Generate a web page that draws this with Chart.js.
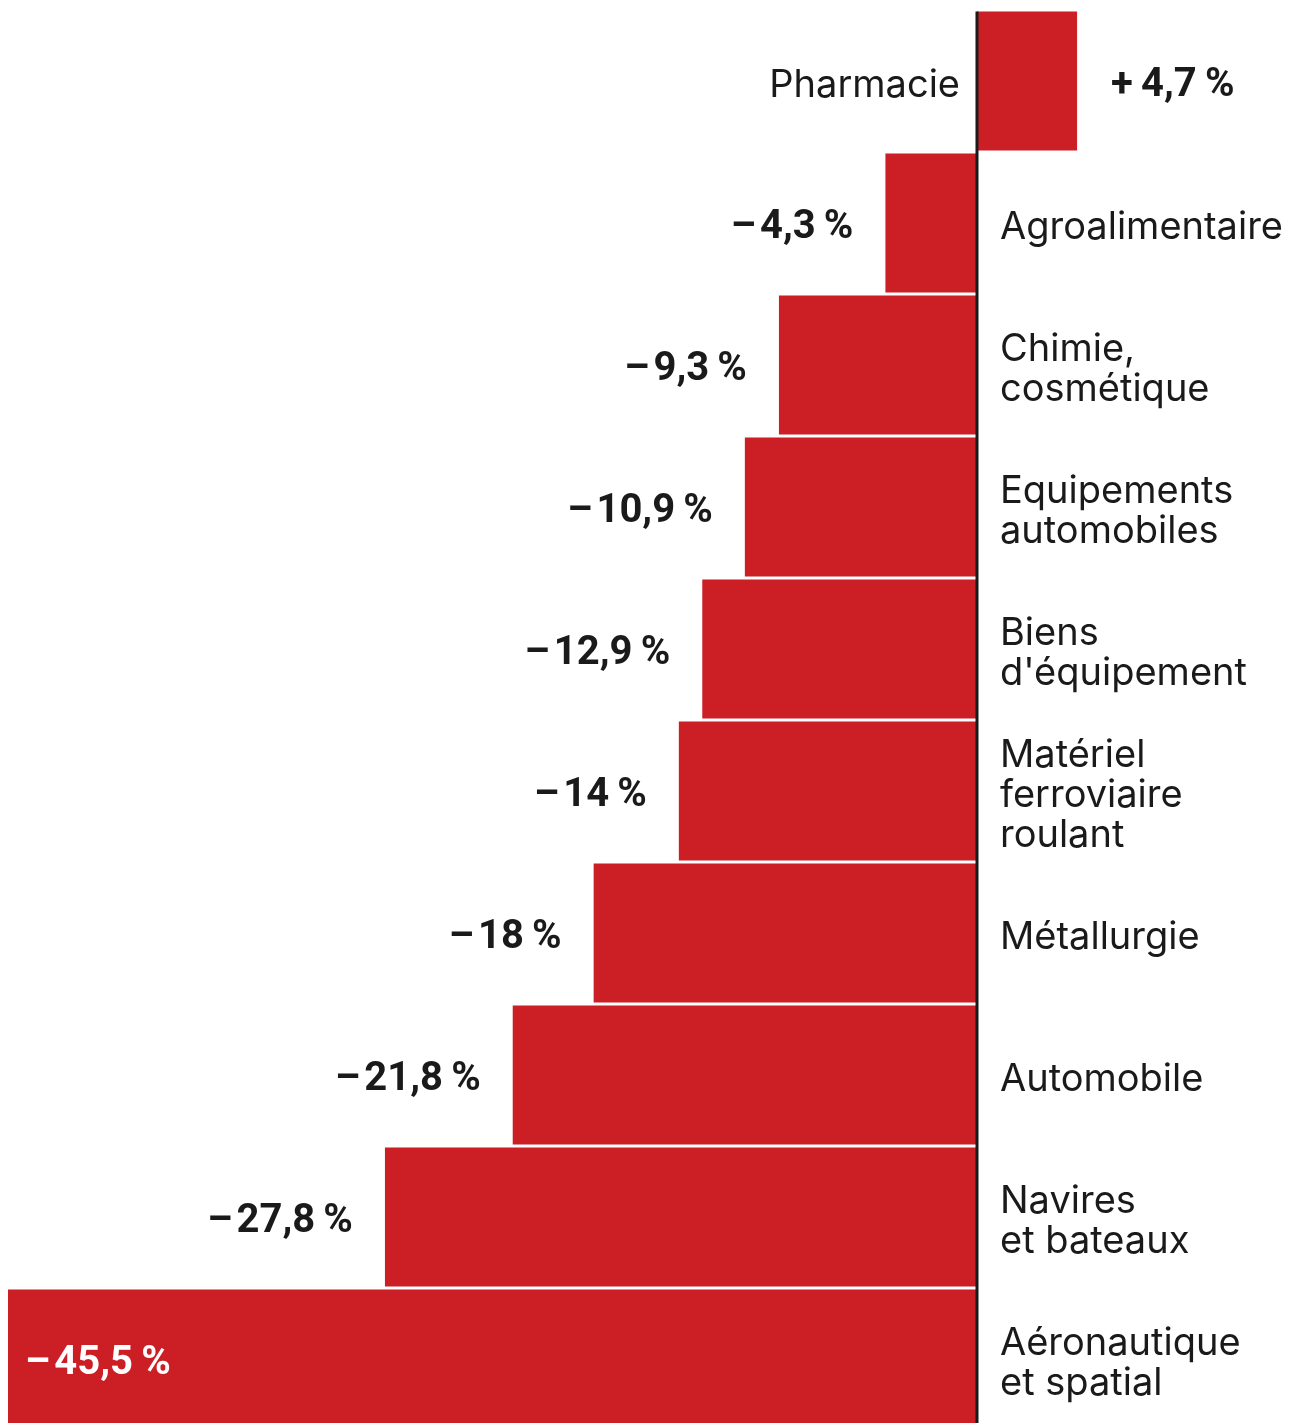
<!DOCTYPE html>
<html lang="fr">
<head>
<meta charset="utf-8">
<script src="https://cdn.jsdelivr.net/npm/chart.js@4"></script>
<style>
  html, body { margin: 0; padding: 0; background: #fff; overflow: hidden; }
  #graphique { display: block; }
</style>
</head>
<body>
<canvas id="graphique" width="1299" height="1430"></canvas>
<script>
// secteurs (une ligne par élément de tableau)
const secteurs = [
    ['Pharmacie'],
    ['Agroalimentaire'],
    ['Chimie,', 'cosmétique'],
    ['Equipements', 'automobiles'],
    ['Biens', "d'équipement"],
    ['Matériel', 'ferroviaire', 'roulant'],
    ['Métallurgie'],
    ['Automobile'],
    ['Navires', 'et bateaux'],
    ['Aéronautique', 'et spatial']
];
// variation en %
const variations = [4.7, -4.3, -9.3, -10.9, -12.9, -14, -18, -21.8, -27.8, -45.5];

const rouge = '#cc1e25';
const noir = '#1a1a1a';

function formaterValeur(v) {
    const signe = v >= 0 ? '+\u2009' : '\u2013\u200a';
    return signe + String(Math.abs(v)).replace('.', ',') + '\u2009%';
}

/**
 * Plugin qui dessine l'axe zéro, les noms des secteurs et les valeurs
 */
const etiquettes = {
    id: 'etiquettes',
    afterDatasetsDraw(chart) {
        const ctx = chart.ctx;
        const x = chart.scales.x;
        const meta = chart.getDatasetMeta(0);
        const x0 = x.getPixelForValue(0);

        // ligne verticale du zéro
        ctx.save();
        ctx.strokeStyle = noir;
        ctx.lineWidth = 3;
        ctx.beginPath();
        ctx.moveTo(x0, meta.data[0].y - meta.data[0].height / 2);
        ctx.lineTo(x0, chart.height);
        ctx.stroke();

        meta.data.forEach((barre, i) => {
            const v = variations[i];
            const lignes = secteurs[i];
            const hLigne = 40;

            // nom du secteur, de l'autre côté de l'axe
            ctx.font = '38px Inter';
            ctx.fillStyle = noir;
            ctx.textBaseline = 'middle';
            ctx.textAlign = v >= 0 ? 'right' : 'left';
            const xNom = v >= 0 ? x0 - 17 : x0 + 23;
            const yDebut = barre.y - (lignes.length - 1) * hLigne / 2;
            lignes.forEach((l, j) => ctx.fillText(l, xNom, yDebut + j * hLigne + 5));

            // valeur
            ctx.font = 'bold 40px Roboto';
            const texte = formaterValeur(v);
            if (v >= 0) {
                ctx.fillStyle = noir;
                ctx.textAlign = 'left';
                ctx.fillText(texte, barre.x + 34, barre.y + 5);
            } else if (v < -40) {
                ctx.fillStyle = '#fff';
                ctx.textAlign = 'left';
                ctx.fillText(texte, barre.x + 17, barre.y + 5);
            } else {
                ctx.fillStyle = noir;
                ctx.textAlign = 'right';
                ctx.fillText(texte, barre.x - 32, barre.y + 5);
            }
        });
        ctx.restore();
    }
};

new Chart(document.getElementById('graphique'), {
    type: 'bar',
    data: {
        labels: secteurs,
        datasets: [{
            data: variations,
            backgroundColor: rouge,
            borderWidth: 0,
            barPercentage: 0.98,
            categoryPercentage: 1
        }]
    },
    options: {
        indexAxis: 'y',
        responsive: false,
        animation: false,
        layout: { padding: { top: 10, left: 0, right: 0, bottom: 0 } },
        plugins: {
            legend: { display: false },
            tooltip: { enabled: false }
        },
        scales: {
            x: { display: false, min: -45.875, max: 15.12 },
            y: { display: false }
        }
    },
    plugins: [etiquettes]
});
</script>
</body>
</html>
